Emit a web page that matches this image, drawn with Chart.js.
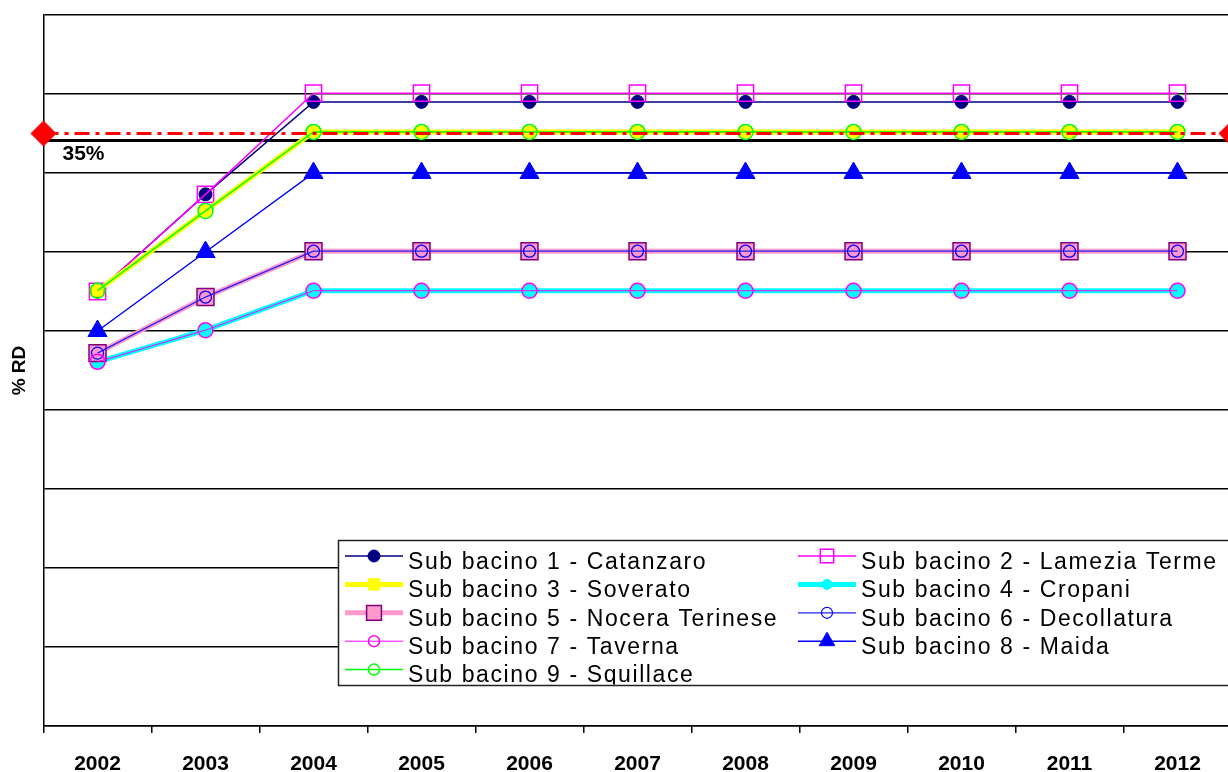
<!DOCTYPE html>
<html>
<head>
<meta charset="utf-8">
<script src="https://cdn.jsdelivr.net/npm/chart.js@4.4.1/dist/chart.umd.min.js"></script>
<style>
  html, body { margin: 0; padding: 0; background: #fff; overflow: hidden; width: 1228px; height: 772px; }
  #wrap { position: absolute; left: 0; top: 0; width: 1262px; height: 795px; }
</style>
</head>
<body>
<div id="wrap"><canvas id="c" width="1262" height="795"></canvas></div>
<script>
// Years on the horizontal axis
const years = ['2002', '2003', '2004', '2005', '2006', '2007', '2008', '2009', '2010', '2011', '2012'];

// % RD per sub-basin
const catanzaro   = [15.0, 27.3, 39.0, 39.0, 39.0, 39.0, 39.0, 39.0, 39.0, 39.0, 39.0];
const lamezia     = [15.0, 27.3, 40.1, 40.1, 40.1, 40.1, 40.1, 40.1, 40.1, 40.1, 40.1];
const soverato    = [15.1, 25.2, 35.2, 35.2, 35.2, 35.2, 35.2, 35.2, 35.2, 35.2, 35.2];
const cropani     = [6.1, 10.1, 15.1, 15.1, 15.1, 15.1, 15.1, 15.1, 15.1, 15.1, 15.1];
const nocera      = [7.2, 14.3, 20.1, 20.1, 20.1, 20.1, 20.1, 20.1, 20.1, 20.1, 20.1];
const decollatura = [7.2, 14.3, 20.1, 20.1, 20.1, 20.1, 20.1, 20.1, 20.1, 20.1, 20.1];
const taverna     = [6.1, 10.1, 15.1, 15.1, 15.1, 15.1, 15.1, 15.1, 15.1, 15.1, 15.1];
const maida       = [10.0, 20.0, 30.0, 30.0, 30.0, 30.0, 30.0, 30.0, 30.0, 30.0, 30.0];
const squillace   = [15.1, 25.2, 35.2, 35.2, 35.2, 35.2, 35.2, 35.2, 35.2, 35.2, 35.2];

// Target level and the solid reference level just below it
const targetLevel = 35;
const targetLabel = '35%';
const referenceLevel = 34.1;

const seriesNames = [
  'Sub bacino 1 - Catanzaro', 'Sub bacino 2 - Lamezia Terme', 'Sub bacino 3 - Soverato',
  'Sub bacino 4 - Cropani', 'Sub bacino 5 - Nocera Terinese', 'Sub bacino 6 - Decollatura',
  'Sub bacino 7 - Taverna', 'Sub bacino 8 - Maida', 'Sub bacino 9 - Squillace'
];
const seriesValues = [catanzaro, lamezia, soverato, cropani, nocera, decollatura, taverna, maida, squillace];

// Line and marker styling for each sub-basin (r: plot marker, lr: legend marker)
const styles = [
  { line: '#000080', lw: 1.5, shape: 'circle',   r: 6.5,  lr: 6,    fill: '#000080', edge: '#000080', ew: 1 },
  { line: '#FF00FF', lw: 1.5, shape: 'rect',     r: 11.5, lr: 9.5,  fill: 'rgba(0,0,0,0)', edge: '#FF00FF', ew: 1.5 },
  { line: '#FFFF00', lw: 5,   shape: 'rect',     r: 8,    lr: 8,    fill: '#FFFF00', edge: '#FFFF00', ew: 1 },
  { line: '#00FFFF', lw: 5,   shape: 'circle',   r: 7,    lr: 5,    fill: '#00FFFF', edge: '#00FFFF', ew: 1 },
  { line: '#FF99CC', lw: 5,   shape: 'rect',     r: 12,   lr: 10.5, fill: '#FF99CC', edge: '#800080', ew: 1.5 },
  { line: '#2020F0', lw: 1.3, shape: 'circle',   r: 6,    lr: 5.5,  fill: 'rgba(0,0,0,0)', edge: '#0000FF', ew: 1.2 },
  { line: '#FF00FF', lw: 1,   shape: 'circle',   r: 7.5,  lr: 5.5,  fill: 'rgba(0,0,0,0)', edge: '#FF00FF', ew: 1.5 },
  { line: '#0000FF', lw: 1.5, shape: 'triangle', r: 11,   lr: 9,    fill: '#0000FF', edge: '#0000FF', ew: 1 },
  { line: '#00FF00', lw: 1.5, shape: 'circle',   r: 7.5,  lr: 5.5,  fill: 'rgba(0,0,0,0)', edge: '#00FF00', ew: 1.5 }
];

const datasets = seriesValues.map((vals, i) => ({
  label: seriesNames[i],
  data: vals,
  borderColor: styles[i].line,
  borderWidth: styles[i].lw,
  backgroundColor: styles[i].fill,
  pointStyle: styles[i].shape,
  pointRadius: styles[i].r,
  pointBackgroundColor: styles[i].fill,
  pointBorderColor: styles[i].edge,
  pointBorderWidth: styles[i].ew,
  tension: 0,
  fill: false,
  order: seriesValues.length - i
}));

function drawMarker(ctx, shape, x, y, r, fill, edge, ew) {
  ctx.save();
  ctx.beginPath();
  if (shape === 'circle') {
    ctx.arc(x, y, r, 0, Math.PI * 2);
  } else if (shape === 'rect') {
    const s = r * Math.SQRT1_2;
    ctx.rect(x - s, y - s, 2 * s, 2 * s);
  } else if (shape === 'triangle') {
    ctx.moveTo(x, y - r);
    ctx.lineTo(x + r * Math.sin(2 * Math.PI / 3), y + r / 2);
    ctx.lineTo(x - r * Math.sin(2 * Math.PI / 3), y + r / 2);
    ctx.closePath();
  } else if (shape === 'diamond') {
    ctx.moveTo(x, y - r); ctx.lineTo(x + r, y); ctx.lineTo(x, y + r); ctx.lineTo(x - r, y);
    ctx.closePath();
  }
  ctx.fillStyle = fill;
  ctx.fill();
  ctx.lineWidth = ew;
  ctx.strokeStyle = edge;
  ctx.stroke();
  ctx.restore();
}

// Solid reference line under the series
const referenceLine = {
  id: 'referenceLine',
  beforeDatasetsDraw(chart) {
    const { ctx, chartArea } = chart;
    const y = chart.scales.y.getPixelForValue(referenceLevel);
    ctx.save();
    ctx.strokeStyle = '#000';
    ctx.lineWidth = 3;
    ctx.beginPath();
    ctx.moveTo(chartArea.left, y);
    ctx.lineTo(chartArea.right, y);
    ctx.stroke();
    ctx.restore();
  }
};

// Red dash-dot target line with diamond ends and its label
const targetLine = {
  id: 'targetLine',
  afterDatasetsDraw(chart) {
    const { ctx, chartArea } = chart;
    const y = chart.scales.y.getPixelForValue(targetLevel);
    ctx.save();
    ctx.strokeStyle = '#FF0000';
    ctx.lineWidth = 3;
    ctx.setLineDash([15, 6, 4, 6]);
    ctx.beginPath();
    ctx.moveTo(chartArea.left, y);
    ctx.lineTo(chartArea.right, y);
    ctx.stroke();
    ctx.setLineDash([]);
    drawMarker(ctx, 'diamond', chartArea.left, y, 12.5, '#FF0000', '#FF0000', 1);
    drawMarker(ctx, 'diamond', chartArea.right, y, 12.5, '#FF0000', '#FF0000', 1);
    ctx.fillStyle = '#000';
    ctx.font = 'bold 21px "Liberation Sans", Arial, sans-serif';
    ctx.textAlign = 'left';
    ctx.textBaseline = 'middle';
    ctx.fillText(targetLabel, chartArea.left + 19, y + 21);
    ctx.restore();
  }
};

// Boxed two-column legend inside the plot
const boxLegend = {
  id: 'boxLegend',
  afterDraw(chart) {
    const ctx = chart.ctx;
    const x0 = 338.5, y0 = 540.5, x1 = chart.width + 10, y1 = 685.5;
    ctx.save();
    ctx.fillStyle = '#fff';
    ctx.fillRect(x0, y0, x1 - x0, y1 - y0);
    ctx.strokeStyle = '#222';
    ctx.lineWidth = 1.5;
    ctx.strokeRect(x0, y0, x1 - x0, y1 - y0);
    ctx.beginPath();
    ctx.rect(x0 + 1, y0 + 1, x1 - x0 - 2, y1 - y0 - 2);
    ctx.clip();
    chart.data.datasets.forEach((ds, i) => {
      const st = styles[i];
      const col = i % 2, row = Math.floor(i / 2);
      const lx = col ? 798 : 345;
      const ty = 562.5 + row * 28.4;
      const ly = ty - 6.5;
      ctx.strokeStyle = st.line;
      ctx.lineWidth = st.lw;
      ctx.beginPath();
      ctx.moveTo(lx, ly);
      ctx.lineTo(lx + 58, ly);
      ctx.stroke();
      drawMarker(ctx, st.shape, lx + 29, ly, st.lr, st.fill, st.edge, st.ew);
      ctx.fillStyle = '#000';
      ctx.font = '23px "Liberation Sans", Arial, sans-serif';
      ctx.letterSpacing = '1.6px';
      ctx.textAlign = 'left';
      ctx.textBaseline = 'middle';
      ctx.fillText(ds.label, lx + 63, ty);
    });
    ctx.restore();
  }
};

new Chart(document.getElementById('c'), {
  type: 'line',
  data: { labels: years, datasets },
  plugins: [referenceLine, targetLine, boxLegend],
  options: {
    responsive: false,
    animation: false,
    devicePixelRatio: 1,
    layout: { padding: { top: 15, right: 30.5, bottom: 0, left: 0 } },
    plugins: { legend: { display: false }, tooltip: { enabled: false } },
    scales: {
      x: {
        offset: true,
        grid: { offset: true, drawOnChartArea: false, drawTicks: true, tickLength: 7, color: '#000', lineWidth: 1.5 },
        border: { display: true, color: '#000', width: 1.5 },
        ticks: {
          autoSkip: false, maxRotation: 0, padding: 20.5, color: '#000',
          font: { family: '"Liberation Sans", Arial, sans-serif', size: 21, weight: 'bold', lineHeight: 1 }
        }
      },
      y: {
        min: -40, max: 50,
        ticks: { stepSize: 10, display: false },
        grid: { color: '#000', lineWidth: 1.5, drawTicks: false },
        border: { display: true, color: '#000', width: 1.5 },
        title: {
          display: true, text: '% RD', color: '#000',
          font: { family: '"Liberation Sans", Arial, sans-serif', size: 19, weight: 'bold', lineHeight: 1.2 },
          padding: { top: 8, bottom: 12.7 }
        }
      }
    }
  }
});
</script>
</body>
</html>
